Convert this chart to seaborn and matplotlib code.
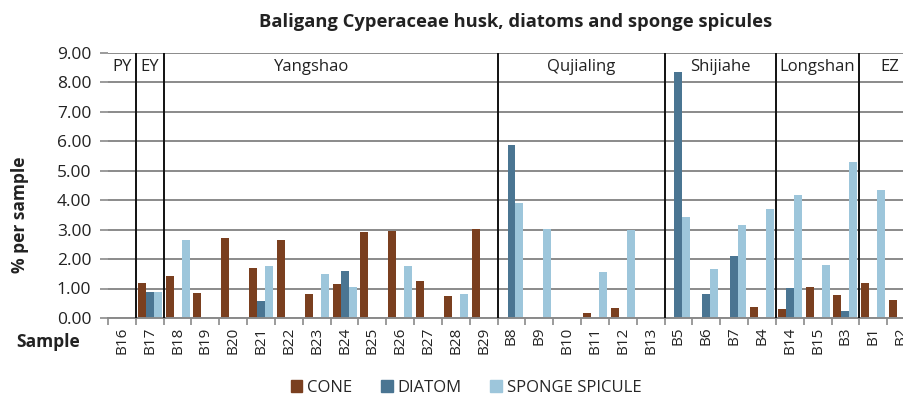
import matplotlib
matplotlib.use("Agg")
import matplotlib.pyplot as plt
import seaborn as sns
import pandas as pd

samples = ["B16", "B17", "B18", "B19", "B20", "B21", "B22", "B23", "B24", "B25",
           "B26", "B27", "B28", "B29", "B8", "B9", "B10", "B11", "B12", "B13",
           "B5", "B6", "B7", "B4", "B14", "B15", "B3", "B1", "B2"]
cone = [0, 1.18, 1.43, 0.86, 2.72, 1.68, 2.64, 0.83, 1.15, 2.91,
        2.96, 1.26, 0.76, 3.03, 0, 0, 0, 0.16, 0.34, 0,
        0, 0, 0, 0.37, 0.31, 1.04, 0.77, 1.20, 0.61]
diatom = [0, 0.88, 0, 0, 0, 0.57, 0, 0, 1.58, 0,
          0, 0, 0, 0, 5.87, 0, 0, 0, 0, 0,
          8.33, 0.82, 2.09, 0, 1.03, 0, 0.25, 0, 0]
sponge = [0, 0.88, 2.66, 0, 0, 1.77, 0, 1.49, 1.05, 0,
          1.75, 0, 0.80, 0, 3.91, 3.03, 0, 1.55, 2.97, 0,
          3.42, 1.67, 3.16, 3.71, 4.16, 1.79, 5.28, 4.33, 0]
series = ["CONE", "DIATOM", "SPONGE SPICULE"]
colors = ["#7a3f1f", "#4a7592", "#9dc6db"]

# periods: name, first sample index, last sample index
periods = [("PY", 0, 0), ("EY", 1, 1), ("Yangshao", 2, 13), ("Qujialing", 14, 19),
           ("Shijiahe", 20, 23), ("Longshan", 24, 26), ("EZ", 27, 28)]
# the original puts a couple of the period names off-centre
label_shift = {"Yangshao": -0.68, "EZ": 0.1}

df = pd.DataFrame({"sample": samples * 3,
                   "value": cone + diatom + sponge,
                   "type": [s for s in series for _ in samples]})

sns.set_style("white")
plt.rcParams["font.family"] = ["Open Sans", "DejaVu Sans"]

fig = plt.figure(figsize=(9.04, 4.0), dpi=100)
ax = fig.add_axes([108 / 904, 82 / 400, 807 / 904, 265.5 / 400])

sns.barplot(data=df, x="sample", y="value", hue="type", order=samples,
            palette=colors, width=0.86, gap=0, ax=ax, legend=False,
            saturation=1, edgecolor="none")

ax.set_xlim(-0.5, len(samples) - 0.5)
ax.set_ylim(0, 9)
ax.set_yticks(range(10))
ax.set_yticklabels([f"{v:.2f}" for v in range(10)], fontsize=12.5, color="#222222")
ax.yaxis.grid(True, color="#8a8a8a", linewidth=1.4)
ax.set_axisbelow(True)
for side in ["left", "right", "top"]:
    ax.spines[side].set_visible(False)
ax.spines["bottom"].set_color("#8a8a8a")
ax.spines["bottom"].set_linewidth(1.4)
ax.tick_params(axis="y", length=6, color="#8a8a8a", width=1.2, pad=6, left=True)

ax.set_xticks(range(len(samples)))
ax.set_xticklabels(samples, rotation=90, fontsize=11, color="#222222")
ax.tick_params(axis="x", length=0, pad=6)
ax.set_xticks([i - 0.5 for i in range(len(samples) + 1)], minor=True)
ax.tick_params(axis="x", which="minor", length=5, color="#8a8a8a", width=1.2, bottom=True)
ax.set_xlabel("")
ax.set_ylabel("")

for name, a, b in periods:
    if a > 0:
        ax.plot([a - 0.5, a - 0.5], [0, 9], color="#111111", linewidth=1.4, zorder=3)
    ax.text((a + b) / 2 + label_shift.get(name, 0), 8.5, name, ha="center", va="center",
            fontsize=12, color="#222222")

fig.text(516 / 904, 0.945, "Baligang Cyperaceae husk, diatoms and sponge spicules",
         ha="center", va="center", fontsize=13.2, fontweight="bold", color="#222222")
fig.text(20 / 904, 185 / 400, "% per sample", rotation=90, ha="center", va="center",
         fontsize=12.5, fontweight="bold", color="#222222")
fig.text(48 / 904, 1 - 342 / 400, "Sample", ha="center", va="center",
         fontsize=12.5, fontweight="bold", color="#222222")

handles = [plt.Rectangle((0, 0), 1, 1, color=c) for c in colors]
fig.legend(handles, series, loc="center", bbox_to_anchor=(466 / 904, 1 - 388 / 400),
           ncol=3, frameon=False, fontsize=12, handlelength=0.7, handleheight=0.7,
           handletextpad=0.3, columnspacing=1.7)

fig.savefig("out.png", dpi=100)
